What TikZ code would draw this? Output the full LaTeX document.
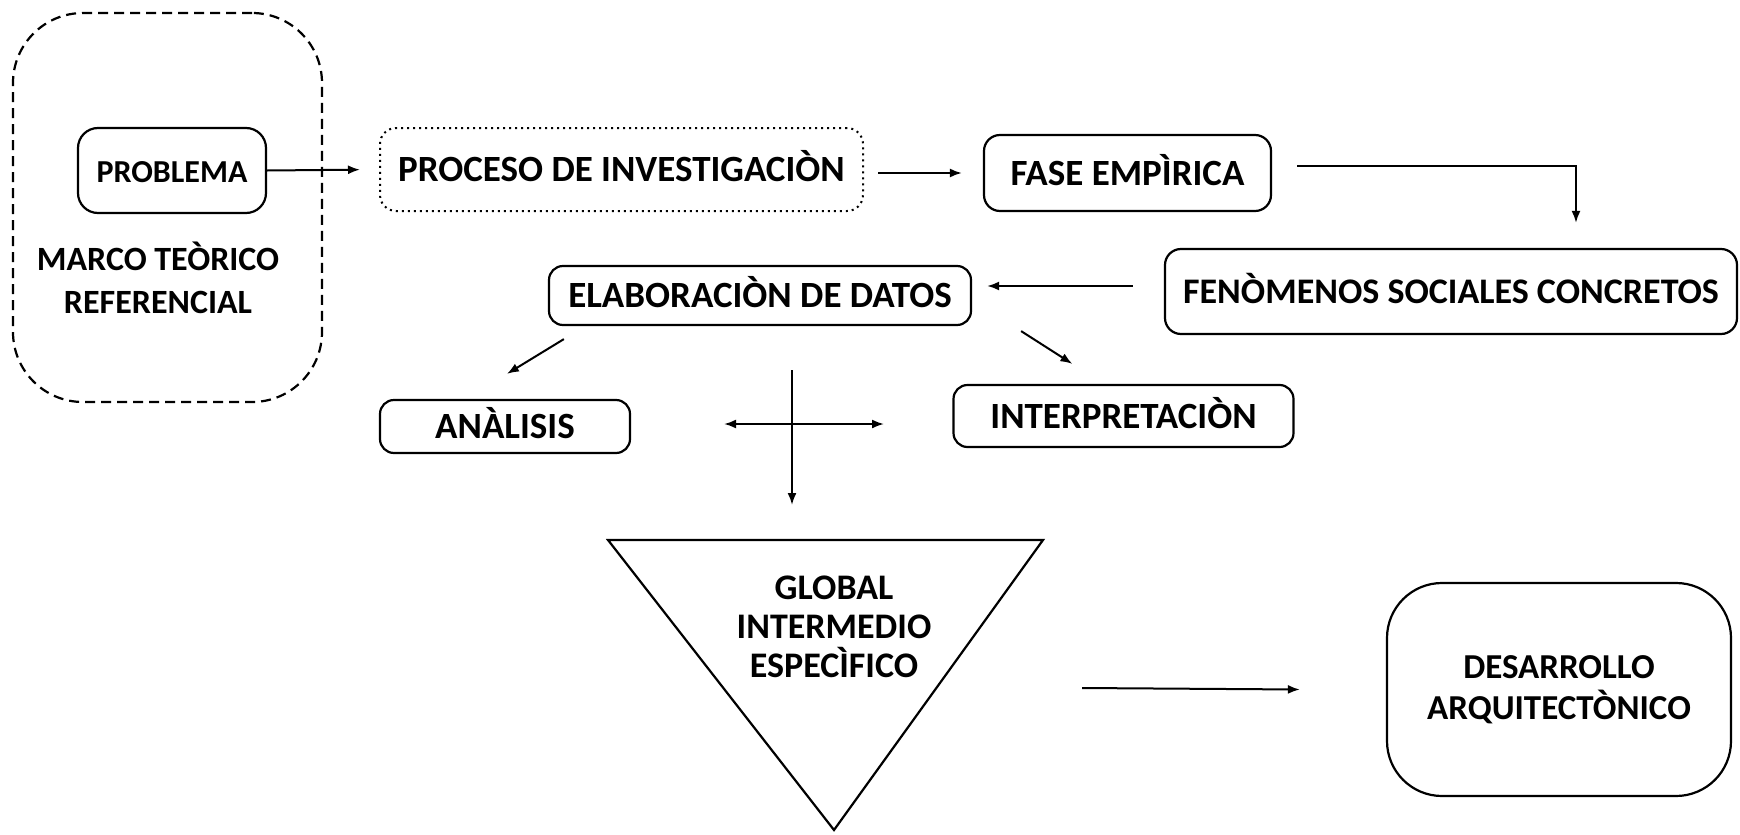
\documentclass[tikz,border=0pt]{standalone}
\usepackage{fontspec}
\setmainfont{Carlito}
\usetikzlibrary{arrows.meta}
\begin{document}
\begin{tikzpicture}[x=1pt,y=-1pt,
  txt/.style={font=\bfseries\fontsize{37}{42}\selectfont,align=center,inner sep=0pt},
  box/.style={draw,line width=2.2pt,rounded corners=16pt,inner sep=0pt,txt},
  one/.style={text height=24pt,text depth=0pt},
  arr/.style={line width=2pt,-{Latex[length=12pt,width=9pt]}},
  dbl/.style={line width=2pt,{Latex[length=12pt,width=9pt]}-{Latex[length=12pt,width=9pt]}},
]
\useasboundingbox[fill=white] (0,0) rectangle (1740,835);

% left dashed frame
\node[box,minimum width=309pt,minimum height=389pt,dash pattern=on 10pt off 6pt,rounded corners=70pt] (marco) at (167.5,207.5) {};
\node[box,one,minimum width=188pt,minimum height=85pt,rounded corners=20pt,font=\bfseries\fontsize{32}{40}\selectfont] (problema) at (172,170.5) {PROBLEMA};
\node[txt,font=\bfseries\fontsize{34}{43}\selectfont] (marcotxt) at (158,278) {MARCO TEÒRICO\\REFERENCIAL};

% top row
\node[box,one,minimum width=483pt,minimum height=83pt,line width=2pt,dash pattern=on 2pt off 4pt,rounded corners=16pt] (proceso) at (621.5,169.5) {PROCESO DE INVESTIGACIÒN};
\node[box,one,minimum width=287pt,minimum height=76pt] (fase) at (1127.5,173) {FASE EMPÌRICA};
\node[box,one,minimum width=572pt,minimum height=85pt,font=\bfseries\fontsize{36}{42}\selectfont] (fen) at (1451,291.5) {FENÒMENOS SOCIALES CONCRETOS};

% middle
\node[box,one,minimum width=422pt,minimum height=59pt,rounded corners=14pt] (elab) at (760,295.5) {ELABORACIÒN DE DATOS};
\node[box,one,minimum width=250pt,minimum height=53pt,rounded corners=14pt] (analisis) at (505,426.5) {ANÀLISIS};
\node[box,one,minimum width=340pt,minimum height=62pt,rounded corners=14pt] (interp) at (1123.5,416) {INTERPRETACIÒN};

% triangle
\coordinate (tl) at (608,540);
\coordinate (tr) at (1043,540);
\coordinate (tb) at (834,830);
\draw[line width=2.2pt,line join=miter] (tl) -- (tr) -- (tb) -- cycle;
\node[txt,font=\bfseries\fontsize{36}{39}\selectfont] (tri) at (834,627) {GLOBAL\\INTERMEDIO\\ESPECÌFICO};

\node[box,minimum width=344pt,minimum height=213pt,rounded corners=55pt,font=\bfseries\fontsize{35}{41}\selectfont] (desarrollo) at (1559,689.5) {DESARROLLO\\ARQUITECTÒNICO};

% cross
\coordinate (cl) at (724,424);
\coordinate (cr) at (884,424);
\coordinate (ct) at (792,370);
\coordinate (cb) at (792,505);
\coordinate (ta) at (1082,688);

% connectors
\draw[arr,shorten >=19pt] (problema.east) -- (proceso.west);
\draw[arr,shorten <=14pt,shorten >=21pt] (proceso.east |- fase.west) -- (fase.west);
\draw[arr] ([xshift=25pt,yshift=7pt]fase.east) -| ([xshift=125pt,yshift=25pt]fen.north);
\draw[arr] ([xshift=-31pt,yshift=5.5pt]fen.west) -- ([xshift=15pt,yshift=9.5pt]elab.east);
\draw[arr] ([xshift=16pt,yshift=-13pt]elab.south west) -- ([xshift=128pt,yshift=25pt]analisis.north west);
\draw[arr] ([xshift=49pt,yshift=-5pt]elab.south east) -- ([xshift=120pt,yshift=20pt]interp.north west);
\draw[dbl] (cl) -- (cr);
\draw[arr] (ct) -- (cb);
\draw[arr] (ta) -- ([xshift=-86pt]desarrollo.west);
\end{tikzpicture}
\end{document}
